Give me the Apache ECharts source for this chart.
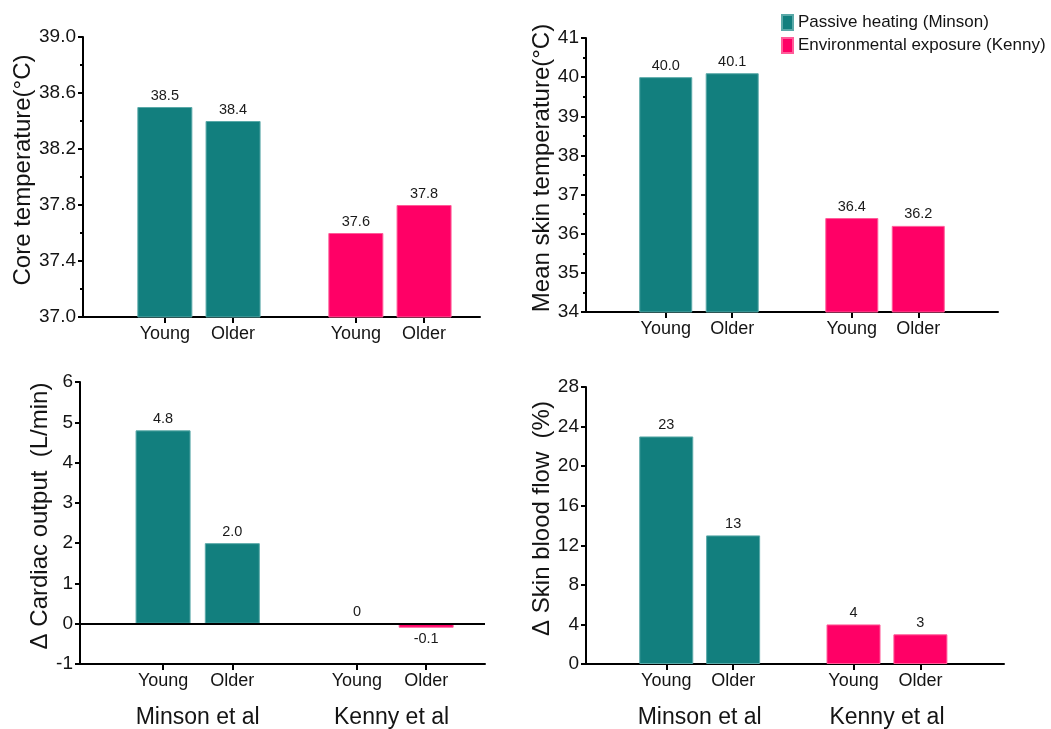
<!DOCTYPE html>
<html><head><meta charset="utf-8">
<script src="https://cdn.jsdelivr.net/npm/echarts@6/dist/echarts.min.js"></script>
<style>html,body{margin:0;padding:0;background:#fff}#c{width:1051px;height:729px}</style>
</head><body><div id="c"></div>
<script>
// ---- data ----
const groups = ['Minson et al', 'Kenny et al'];
const ages = ['Young', 'Older'];
const studyNames = ['Passive heating (Minson)', 'Environmental exposure (Kenny)'];
const coreTemp = [[38.5, 38.4], [37.6, 37.8]];
const meanSkinTemp = [[40.0, 40.1], [36.4, 36.2]];
const cardiacOutput = [[4.8, 2.0], [0, -0.1]];
const skinBloodFlow = [[23, 13], [4, 3]];
const coreTicks = ['37.0', '37.4', '37.8', '38.2', '38.6', '39.0'];
const skinTempTicks = ['34', '35', '36', '37', '38', '39', '40', '41'];
const cardiacTicks = ['-1', '0', '1', '2', '3', '4', '5', '6'];
const bloodFlowTicks = ['0', '4', '8', '12', '16', '20', '24', '28'];
const axisTitles = ['Core temperature(°C)', 'Mean skin temperature(°C)', 'Δ Cardiac output  (L/min)', 'Δ Skin blood flow  (%)'];

// ---- layout / style ----
const FONT = '"Liberation Sans", Arial, Helvetica, sans-serif';
const TXT = '#141414';
const colors = ['#127F7E', '#FF0066'];
const borders = ['#5aa9a8', '#ff5c99'];
const GROUP_STEP = 2.8;
const X_MIN = -1.2;
const pos = (g, a) => g * GROUP_STEP + a;

const panels = [
  { values: coreTemp, ticks: coreTicks, title: axisTitles[0], grid: { left: 83, top: 37, width: 397, height: 280 }, xMax: 4.62, barWidth: 55, decimals: 1, minor: true, nameGap: 48, groupLabels: false, zeroLine: false },
  { values: meanSkinTemp, ticks: skinTempTicks, title: axisTitles[1], grid: { left: 586, top: 38, width: 412, height: 274 }, xMax: 5.0, barWidth: 53, decimals: 1, minor: true, nameGap: 31, groupLabels: false, zeroLine: false },
  { values: cardiacOutput, ticks: cardiacTicks, title: axisTitles[2], grid: { left: 80, top: 382, width: 405, height: 285 }, xMax: 4.65, barWidth: 55, decimals: 1, minor: false, nameGap: 26, groupLabels: true, zeroLine: true },
  { values: skinBloodFlow, ticks: bloodFlowTicks, title: axisTitles[3], grid: { left: 586, top: 387, width: 418, height: 280 }, xMax: 5.05, barWidth: 54, decimals: 0, minor: false, nameGap: 29, groupLabels: true, zeroLine: false }
];

const tickPositions = [];
groups.forEach((g, gi) => ages.forEach((a, ai) => tickPositions.push(pos(gi, ai))));
const groupCenters = groups.map((g, gi) => (pos(gi, 0) + pos(gi, ages.length - 1)) / 2);
const ageLabel = v => { const i = tickPositions.findIndex(p => Math.abs(p - v) < 1e-6); return i < 0 ? '' : ages[i % ages.length]; };
const groupLabel = v => { const i = groupCenters.findIndex(p => Math.abs(p - v) < 1e-6); return i < 0 ? '' : groups[i]; };

const grid = [], xAxis = [], yAxis = [], series = [];
panels.forEach((p, pi) => {
  grid.push(Object.assign({ containLabel: false }, p.grid));
  const nums = p.ticks.map(Number);
  const yMin = nums[0], yMax = nums[nums.length - 1];
  const lineStyle = { color: '#000', width: 2 };
  // primary x axis: Young / Older
  const xi = xAxis.length;
  xAxis.push({
    type: 'value', gridIndex: pi, position: 'bottom', min: X_MIN, max: p.xMax,
    axisLine: { show: true, onZero: false, lineStyle },
    axisTick: { show: true, customValues: tickPositions, length: 6, lineStyle: { color: '#000', width: 2 } },
    axisLabel: { show: true, customValues: tickPositions, formatter: ageLabel, fontSize: 18, color: TXT, fontFamily: FONT, margin: 8 },
    splitLine: { show: false }
  });
  if (p.groupLabels) {
    xAxis.push({
      type: 'value', gridIndex: pi, position: 'bottom', min: X_MIN, max: p.xMax,
      axisLine: { show: false, onZero: false }, axisTick: { show: false },
      axisLabel: { show: true, customValues: groupCenters, formatter: groupLabel, fontSize: 23, color: TXT, fontFamily: FONT, margin: 42 },
      splitLine: { show: false }
    });
  }
  const yi = yAxis.length;
  yAxis.push({
    type: 'value', gridIndex: pi, position: 'left', min: yMin, max: yMax,
    name: p.title, nameLocation: 'middle', nameGap: p.nameGap, nameRotate: 90,
    nameTextStyle: { fontSize: 24, color: TXT, fontFamily: FONT, padding: [0, 0, 0, 14] },
    axisLine: { show: true, onZero: false, lineStyle },
    axisTick: { show: true, customValues: nums, length: 5, lineStyle: { color: '#000', width: 2 } },
    axisLabel: { show: true, customValues: nums, formatter: v => { const i = nums.findIndex(n => Math.abs(n - v) < 1e-6); return i < 0 ? '' : p.ticks[i]; }, fontSize: 19, color: TXT, fontFamily: FONT, margin: 7 },
    splitLine: { show: false }
  });
  if (p.minor) {
    const mids = [];
    for (let i = 0; i < nums.length - 1; i++) mids.push((nums[i] + nums[i + 1]) / 2);
    yAxis.push({
      type: 'value', gridIndex: pi, position: 'left', min: yMin, max: yMax,
      axisLine: { show: false, onZero: false }, axisLabel: { show: false }, splitLine: { show: false },
      axisTick: { show: true, customValues: mids, length: 3, lineStyle: { color: '#000', width: 2 } }
    });
  }
  groups.forEach((g, gi) => {
    const s = {
      type: 'bar', name: studyNames[gi], xAxisIndex: xi, yAxisIndex: yi,
      barWidth: p.barWidth, barGap: '-100%',
      itemStyle: { color: colors[gi], borderColor: borders[gi], borderWidth: 1 },
      label: {
        show: true, position: 'top', distance: 4, fontSize: 14.5, color: '#1a1a1a', fontFamily: FONT,
        formatter: prm => { const v = prm.value[1]; return v === 0 ? '0' : v.toFixed(p.decimals); }
      },
      data: ages.map((a, ai) => {
        const v = p.values[gi][ai];
        const d = { value: [pos(gi, ai), v] };
        if (v < 0) d.label = { position: 'bottom' };
        if (v === 0) d.itemStyle = { borderWidth: 0 };
        return d;
      }),
      clip: true, silent: true, animation: false
    };
    if (p.zeroLine && gi === 0) {
      s.markLine = { silent: true, symbol: 'none', label: { show: false }, lineStyle: { color: '#000', width: 2, type: 'solid' }, data: [{ yAxis: 0 }], animation: false };
    }
    series.push(s);
  });
});

const chart = echarts.init(document.getElementById('c'), null, { renderer: 'canvas' });
chart.setOption({
  backgroundColor: '#fff',
  animation: false,
  textStyle: { fontFamily: FONT },
  legend: {
    data: studyNames, orient: 'vertical', left: 776, top: 9, icon: 'rect',
    itemWidth: 11, itemHeight: 15, itemGap: 6, selectedMode: false,
    textStyle: { fontSize: 17, color: TXT, fontFamily: FONT }
  },
  grid, xAxis, yAxis, series
});
</script></body></html>
